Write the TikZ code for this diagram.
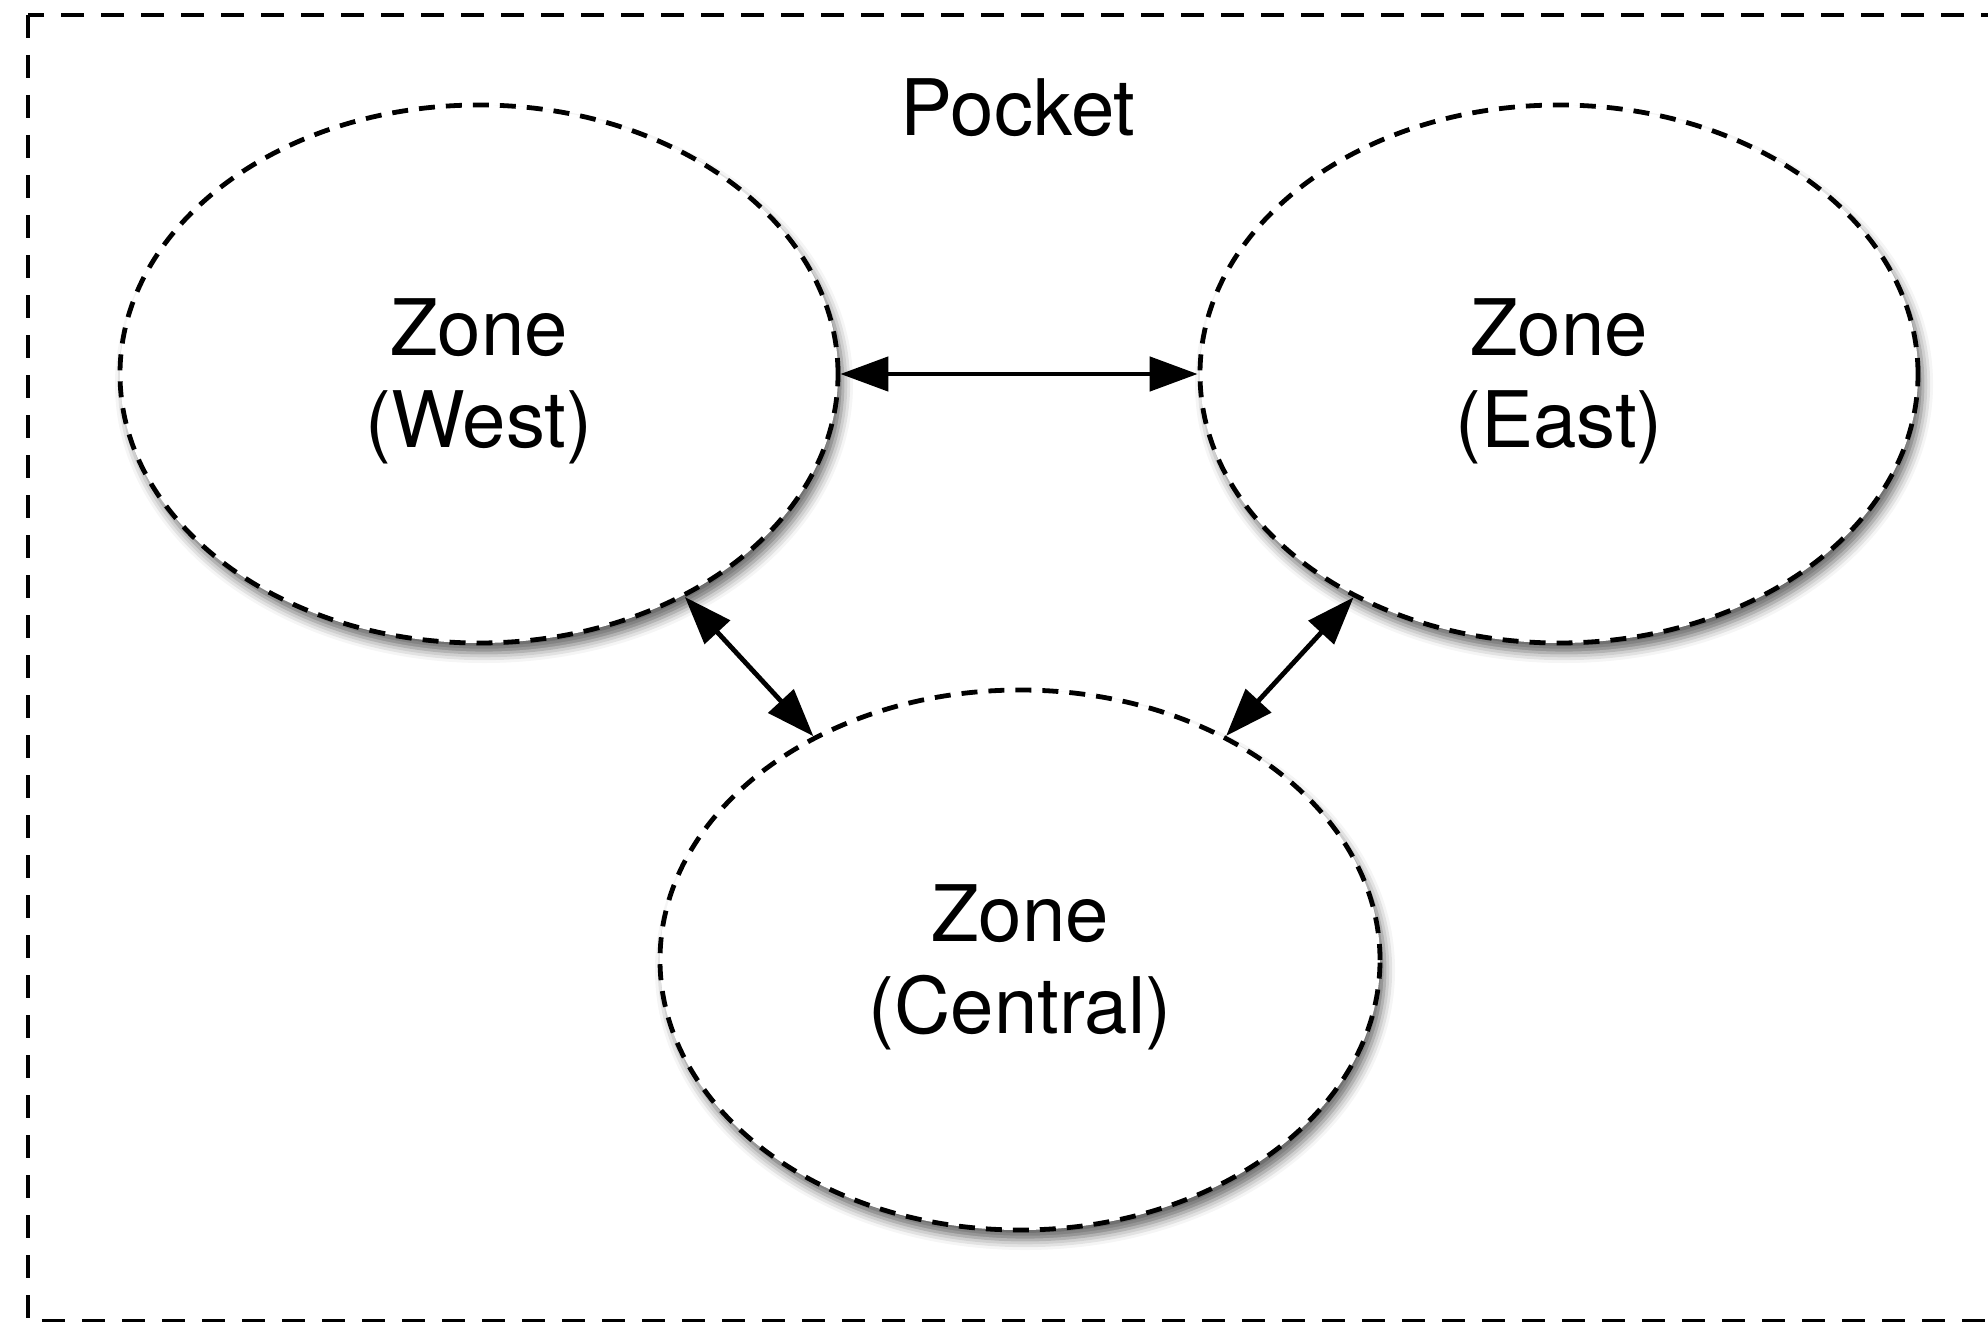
\documentclass[tikz,border=0pt]{standalone}
\usepackage{fontspec}
\setmainfont{TeX Gyre Heros}
\usetikzlibrary{shapes.geometric,shadows.blur,arrows.meta}
\begin{document}
\begin{tikzpicture}[x=0.5pt,y=-0.5pt,
  zone/.style={ellipse, draw, line width=2.4pt, dash pattern=on 8pt off 5.5pt,
    fill=white, minimum width=359pt, minimum height=269pt, inner sep=0pt,
    align=center, font=\fontsize{39}{46}\selectfont,
    blur shadow={shadow xshift=2.5pt, shadow yshift=-5pt, shadow blur radius=5pt, shadow opacity=60}},
  link/.style={{Triangle[length=24pt,width=17pt]}-{Triangle[length=24pt,width=17pt]}, line width=2.4pt},
  title/.style={font=\fontsize{39}{46}\selectfont, anchor=base, inner sep=0pt}]
\useasboundingbox (0,0) rectangle (1988,1322);
\draw[line width=2.4pt, dash pattern=on 11.5pt off 8.5pt] (28,15) rectangle (2010,1321);
\node[title] (pocket) at (1018,136) {Pocket};
\node[zone] (west) at (479,374) {\rule{0pt}{36pt}Zone\\(West)};
\node[zone] (east) at (1559,374) {\rule{0pt}{36pt}Zone\\(East)};
\node[zone, minimum width=360pt, minimum height=270pt] (central) at (1020,960) {\rule{0pt}{36pt}Zone\\(Central)};
\draw[link] (west) -- (east);
\draw[link] (west) -- (central);
\draw[link] (east) -- (central);
\end{tikzpicture}
\end{document}
